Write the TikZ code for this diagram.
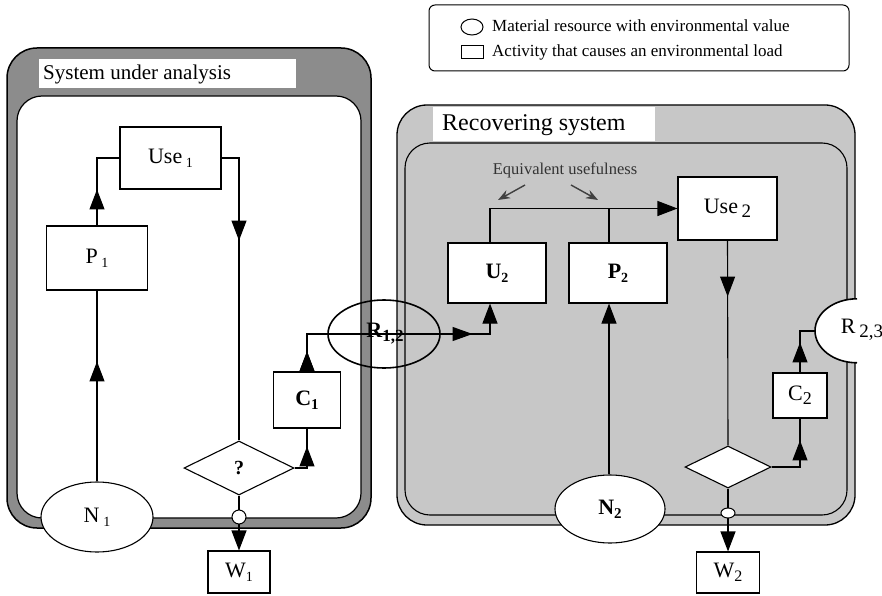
\documentclass[tikz,border=0pt]{standalone}
\usepackage{fontspec}
\setmainfont{Liberation Serif}
\usetikzlibrary{shapes.geometric,arrows.meta,decorations.markings}
\newcommand\sbx[2]{\raisebox{-0.4ex}{\fontsize{#1}{#1}\selectfont #2}}
\definecolor{ringgray}{gray}{0.55}
\definecolor{recgray}{gray}{0.78}
\begin{document}
\begin{tikzpicture}[x=1pt,y=-1pt,
  ln/.style={line width=1.1pt},
  box/.style={rectangle, draw, fill=white, line width=1.1pt, inner sep=0pt, font=\fontsize{22}{22}\selectfont},
  res/.style={ellipse, draw, fill=white, line width=1.1pt, inner sep=0pt, font=\fontsize{22}{22}\selectfont},
  dec/.style={diamond, draw, fill=white, line width=1.1pt, inner sep=0pt, font=\bfseries\fontsize{20}{20}\selectfont},
  tip/.style={-{Triangle[length=20pt,width=15pt]}},
  midarr/.style={postaction={decorate}, decoration={markings, mark=at position #1 with {\arrow{Triangle[length=20pt,width=15pt]}}}},
  title/.style={fill=white, inner sep=0pt, anchor=west},
  eqarr/.style={line width=1.4pt, -{Stealth[length=12pt,width=9pt]}, black!75}
]
\useasboundingbox (0,0) rectangle (882,596);
\clip (0,0) rectangle (882,596);

% legend
\draw[line width=1pt, rounded corners=6pt] (429,5) rectangle (849,71);
\node[ellipse, draw, line width=1pt, minimum width=22pt, minimum height=16pt, inner sep=0pt] (legell) at (472,27) {};
\node[rectangle, draw, line width=1pt, minimum width=22pt, minimum height=13pt, inner sep=0pt] (legbox) at (472,52.5) {};
\node[anchor=west, inner sep=0pt, font=\fontsize{17}{17}\selectfont] (legt1) at (492,26) {Material resource with environmental value};
\node[anchor=west, inner sep=0pt, font=\fontsize{17}{17}\selectfont] (legt2) at (492,52) {Activity that causes an environmental load};

% system under analysis
\draw[line width=1.5pt, fill=ringgray, rounded corners=30pt] (7,48) rectangle (371,528);
\draw[line width=1.2pt, fill=white, rounded corners=25pt] (17,96) rectangle (361,518);
\fill[white] (39,59) rectangle (296,88);
\node[title, font=\fontsize{21}{21}\selectfont] (t1) at (43,74) {System under analysis};

% recovering system
\draw[line width=1.3pt, fill=recgray, rounded corners=30pt] (397,105) rectangle (855,525);
\draw[line width=1.1pt, rounded corners=25pt] (405,143) rectangle (847,515);
\fill[white] (433,107) rectangle (655,141);
\node[title, font=\fontsize{24}{24}\selectfont] (t2) at (442,125) {Recovering system};

% nodes left
\node[box, minimum width=101pt, minimum height=62pt] (use1) at (170.5,158) {Use\,\sbx{14}{1}};
\node[box, minimum width=101pt, minimum height=64pt] (P1) at (97,258) {P\,\sbx{14}{1}};
\node[res, minimum width=112pt, minimum height=70pt] (N1) at (97,517) {N\,\sbx{14}{1}};
\node[dec, minimum width=110pt, minimum height=54pt] (d1) at (239,468) {?};
\node[box, minimum width=62pt, minimum height=42pt] (W1) at (239,572) {W\sbx{14}{1}};
\node[box, minimum width=67pt, minimum height=56pt, font=\bfseries\fontsize{22}{22}\selectfont] (C1) at (307,400) {C\sbx{15}{1}};

% nodes right
\node[box, minimum width=98pt, minimum height=60pt, font=\bfseries\fontsize{22}{22}\selectfont] (U2) at (497,273) {U\sbx{14}{2}};
\node[box, minimum width=98pt, minimum height=60pt, font=\bfseries\fontsize{22}{22}\selectfont] (P2) at (618,273) {P\sbx{14}{2}};
\node[box, minimum width=99pt, minimum height=63pt] (use2) at (727.5,208.5) {Use\,\sbx{19}{2}};
\node[res, minimum width=110pt, minimum height=68pt, font=\bfseries\fontsize{22}{22}\selectfont] (N2) at (610,509) {N\sbx{15}{2}};
\node[dec, minimum width=86pt, minimum height=42pt] (d2) at (728,467) {};
\node[box, minimum width=54pt, minimum height=45pt] (C2) at (800,395.5) {C\sbx{18}{2}};
\node[box, minimum width=63pt, minimum height=41pt] (W2) at (728,572.5) {W\sbx{16}{2}};
\node[ellipse, fill=white, minimum width=84pt, minimum height=64pt, inner sep=0pt] (R23) at (857,331) {};
\draw[line width=1.6pt] (R23.north) arc[start angle=270, end angle=90, x radius=42, y radius=32];
\node[inner sep=0pt, font=\fontsize{22}{22}\selectfont] (R23t) at (862,330) {R\,\sbx{19}{2,3}};
\node[ellipse, draw, line width=1.6pt, minimum width=112pt, minimum height=68pt, inner sep=0pt] (R12) at (384,334) {};
\node[inner sep=0pt, font=\bfseries\fontsize{22}{22}\selectfont] (R12t) at (385,334) {R\sbx{17}{1,2}};

\coordinate (ux) at (490,334);
\coordinate (px) at (609,0);

% connectors left
\draw[ln, midarr=120pt] (N1.north) -- (P1.south);
\draw[ln, midarr=36pt] (P1.north) |- (use1.west);
\draw[ln, midarr=100pt] (use1.east) -| (d1.north);
\draw[ln, tip] (d1.south) -- (W1.north);
\draw[ln, midarr=34pt] (d1.east) -| (C1.south);
\draw[ln, midarr=20pt, postaction={decorate, decoration={markings, mark=at position 203pt with {\arrow{Triangle[length=20pt,width=14pt]}}}}, tip] (C1.north) |- (ux) -- (U2.south -| ux);

% connectors right
\draw[ln, tip] (N2.north -| px) -- (P2.south -| px);
\draw[ln, tip] (U2.north -| ux) |- (use2.west);
\draw[ln] (P2.north -| px) -- (px |- use2.west);
\draw[ln, midarr=56pt] (use2.south) -- (d2.north);
\draw[ln, tip] (d2.south) -- (W2.north);
\draw[ln, midarr=55pt] (d2.east) -| (C2.south);
\draw[ln, midarr=30pt] (C2.north) |- (R23.west);

% small junction circles
\node[circle, draw, fill=white, line width=1pt, minimum size=14pt, inner sep=0pt] (j1) at (239,517) {};
\node[ellipse, draw, fill=white, line width=1pt, minimum width=14pt, minimum height=10pt, inner sep=0pt] (j2) at (728,513) {};

% equivalent usefulness
\node[inner sep=0pt, font=\fontsize{16.5}{16.5}\selectfont, text=black!80] (eq) at (565,170) {Equivalent usefulness};
\coordinate (ea1) at (525,185);
\coordinate (ea2) at (498,200);
\coordinate (eb1) at (571,185);
\coordinate (eb2) at (598,200);
\draw[eqarr] (ea1) -- (ea2);
\draw[eqarr] (eb1) -- (eb2);
\end{tikzpicture}
\end{document}
